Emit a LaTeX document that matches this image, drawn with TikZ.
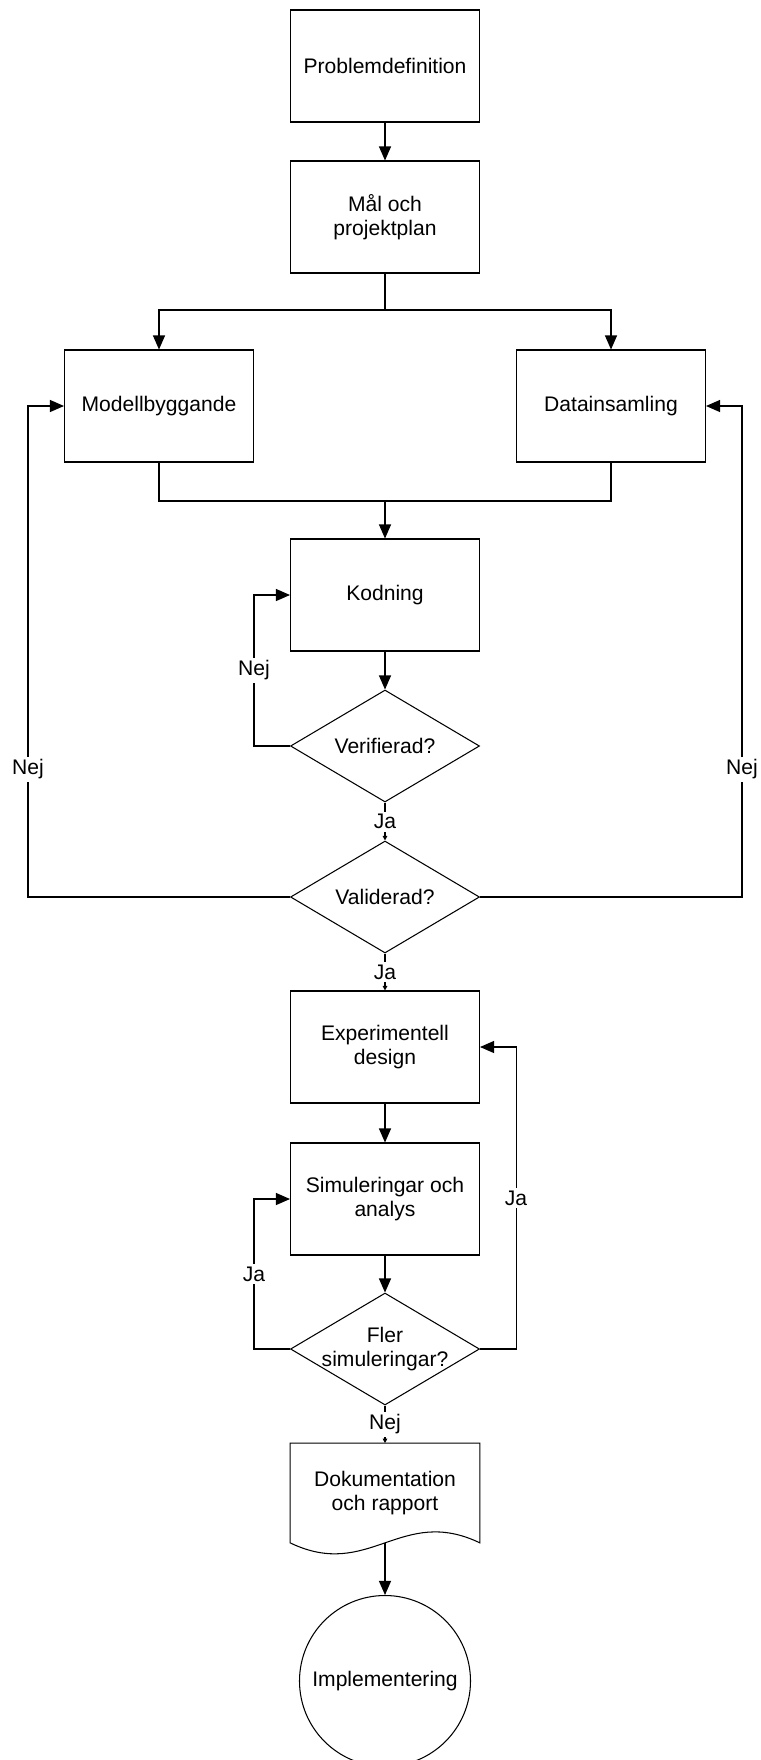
\documentclass[tikz,border=0pt]{standalone}
\usepackage{fontspec}
\setmainfont{Liberation Sans}
\usetikzlibrary{arrows.meta,shapes.geometric}

\begin{document}
\begin{tikzpicture}[
  x=0.2mm, y=-0.2mm,
  font=\fontsize{12}{13.8}\selectfont,
  >={Triangle[length=2.8mm,width=2.4mm]},
  box/.style={draw, line width=0.6pt, align=center, minimum width=3.78cm, minimum height=2.24cm, inner sep=2pt},
  dia/.style={diamond, draw, line width=0.6pt, minimum width=3.78cm, minimum height=2.24cm, inner sep=0pt},
  circ/.style={circle, draw, line width=0.6pt, minimum size=3.42cm, inner sep=0pt},
  txt/.style={align=center, inner sep=0pt},
  lbl/.style={fill=white, inner sep=1.5pt},
  conn/.style={line width=0.6pt},
  arrow/.style={->, line width=0.6pt},
  smallarrow/.style={-{Triangle[length=0.9mm,width=0.9mm]}, line width=0.6pt},
]
\useasboundingbox (0,0) rectangle (760,1760);
\fill[white] (0,0) rectangle (760,1760);

\node[box] (prob) at (385,66) {Problemdefinition};
\node[box] (mal) at (385,217) {Mål och\\projektplan};
\node[box] (model) at (159,406) {Modellbyggande};
\node[box] (data) at (611,406) {Datainsamling};
\node[box] (kod) at (385,595) {Kodning};
\node[dia] (verif) at (385,746) {};
\node[txt] (veriftxt) at (verif) {Verifierad?};
\node[dia] (valid) at (385,897) {};
\node[txt] (validtxt) at (valid) {Validerad?};
\node[box] (exp) at (385,1047) {Experimentell\\design};
\node[box] (sim) at (385,1199) {Simuleringar och\\analys};
\node[dia] (fler) at (385,1349) {};
\node[txt] (flertxt) at (fler) {Fler\\simuleringar?};
\node[txt, minimum width=3.78cm, minimum height=1.98cm] (doc) at (385,1493) {Dokumentation\\och rapport};
\draw[conn] (doc.south west) -- (doc.north west) -- (doc.north east) -- (doc.south east)
  .. controls +(-79,-38) and +(79,38) .. (doc.south west) -- cycle;
\node[circ] (impl) at (385,1681) {Implementering};

\coordinate (split) at (385,310);
\coordinate (merge) at (385,501);

\draw[arrow] (prob) -- (mal);
\draw[conn] (mal.south) -- (split);
\draw[arrow] (split) -| (model.north);
\draw[arrow] (split) -| (data.north);
\draw[conn] (model.south) |- (merge);
\draw[conn] (data.south) |- (merge);
\draw[arrow] (merge) -- (kod.north);
\draw[arrow] (kod) -- (verif);

% loops back
\draw[arrow] (verif.west) -- ++(-36,0) |- node[lbl, pos=0.25] (nej1) {Nej} (kod.west);
\draw[arrow] (valid.west) -- (28,897) |- node[lbl, pos=0.13] (nej2) {Nej} (model.west);
\draw[arrow] (valid.east) -- (742,897) |- node[lbl, pos=0.13] (nej3) {Nej} (data.east);

\draw[smallarrow] (verif.south) -- node[lbl] (ja1) {Ja} (valid.north);
\draw[smallarrow] (valid.south) -- node[lbl] (ja2) {Ja} (exp.north);
\draw[arrow] (exp) -- (sim);
\draw[arrow] (sim) -- (fler);
\draw[arrow] (fler.west) -- ++(-36,0) |- node[lbl, pos=0.25] (ja3) {Ja} (sim.west);
\draw[arrow] (fler.east) -- ++(36,0) |- node[lbl, pos=0.25] (ja4) {Ja} (exp.east);
\draw[smallarrow] (fler.south) -- node[lbl] (nej4) {Nej} (doc.north);
\draw[arrow] (doc.south) -- (impl.north);

\end{tikzpicture}
\end{document}
